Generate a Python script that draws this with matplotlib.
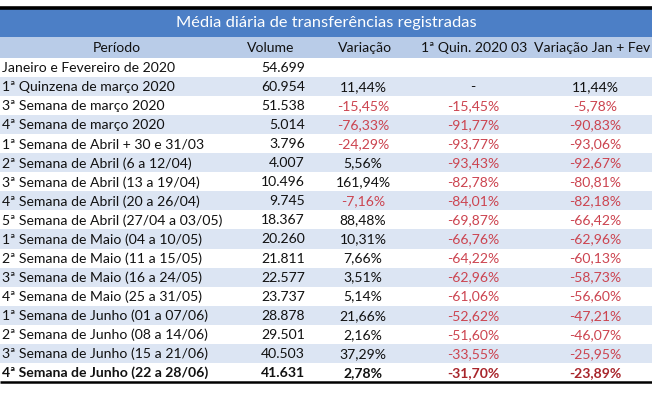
import matplotlib
matplotlib.use("Agg")
import matplotlib.pyplot as plt
from matplotlib.patches import Rectangle

title = "Média diária de transferências registradas"
headers = ["Período", "Volume", "Variação", "1ª Quin. 2020 03", "Variação Jan + Fev"]
periods = [
    "Janeiro e Fevereiro de 2020",
    "1ª Quinzena de março 2020",
    "3ª Semana de março 2020",
    "4ª Semana de março 2020",
    "1ª Semana de Abril + 30 e 31/03",
    "2ª Semana de Abril (6 a 12/04)",
    "3ª Semana de Abril (13 a 19/04)",
    "4ª Semana de Abril (20 a 26/04)",
    "5ª Semana de Abril (27/04 a 03/05)",
    "1ª Semana de Maio (04 a 10/05)",
    "2ª Semana de Maio (11 a 15/05)",
    "3ª Semana de Maio (16 a 24/05)",
    "4ª Semana de Maio (25 a 31/05)",
    "1ª Semana de Junho (01 a 07/06)",
    "2ª Semana de Junho (08 a 14/06)",
    "3ª Semana de Junho (15 a 21/06)",
    "4ª Semana de Junho (22 a 28/06)",
]
volumes = ["54.699", "60.954", "51.538", "5.014", "3.796", "4.007", "10.496", "9.745",
           "18.367", "20.260", "21.811", "22.577", "23.737", "28.878", "29.501", "40.503", "41.631"]
variacao = ["", "11,44%", "-15,45%", "-76,33%", "-24,29%", "5,56%", "161,94%", "-7,16%",
            "88,48%", "10,31%", "7,66%", "3,51%", "5,14%", "21,66%", "2,16%", "37,29%", "2,78%"]
quin = ["", "-", "-15,45%", "-91,77%", "-93,77%", "-93,43%", "-82,78%", "-84,01%",
        "-69,87%", "-66,76%", "-64,22%", "-62,96%", "-61,06%", "-52,62%", "-51,60%", "-33,55%", "-31,70%"]
jan_fev = ["", "11,44%", "-5,78%", "-90,83%", "-93,06%", "-92,67%", "-80,81%", "-82,18%",
           "-66,42%", "-62,96%", "-60,13%", "-58,73%", "-56,60%", "-47,21%", "-46,07%", "-25,95%", "-23,89%"]

W, H = 652, 408
fig = plt.figure(figsize=(W / 100, H / 100), dpi=100)
ax = fig.add_axes([0, 0, 1, 1])
ax.set_xlim(0, W)
ax.set_ylim(H, 0)
ax.axis("off")

FONT = ["Lato", "DejaVu Sans"]
FS = 10.1
TITLE_BG = "#4C7FC6"
HEAD_BG = "#B9CCE8"
BAND_BG = "#DCE5F3"
RED = "#CC4450"
DARK_RED = "#A8252B"
TXT = "#111111"

top_line = 8
title_top, title_bot = 9, 37
head_top, head_bot = 37, 58
row_top = 58
row_h = 19.05

ax.add_patch(Rectangle((0, title_top), W, title_bot - title_top, color=TITLE_BG, lw=0))
ax.add_patch(Rectangle((0, head_top), W, head_bot - head_top, color=HEAD_BG, lw=0))
ax.plot([0, W], [top_line, top_line], color="black", lw=2.6, solid_capstyle="butt")

ax.text(326, (title_top + title_bot) / 2 + 0.5, title, ha="center", va="center",
        color="white", fontsize=11.8, family=FONT)

head_x = [117, 271, 365, 474]
for hx, h in zip(head_x, headers[:4]):
    ax.text(hx, (head_top + head_bot) / 2 + 0.5, h, ha="center", va="center",
            color=TXT, fontsize=FS, family=FONT)
ax.text(650, (head_top + head_bot) / 2 + 0.5, headers[4], ha="right", va="center",
        color=TXT, fontsize=FS, family=FONT)

n = len(periods)
for i in range(n):
    y0 = row_top + i * row_h
    if i % 2 == 1:
        ax.add_patch(Rectangle((0, y0), W, row_h, color=BAND_BG, lw=0))
    yc = y0 + row_h / 2 + 0.5
    last = i == n - 1
    fw = "bold" if last else "normal"
    red = DARK_RED if last else RED
    ax.text(2, yc, periods[i], ha="left", va="center", color=TXT, fontsize=FS,
            family=FONT, weight=fw)
    ax.text(305, yc, volumes[i], ha="right", va="center", color=TXT, fontsize=FS,
            family=FONT, weight=fw)
    for cx, val in zip([363, 473, 595], [variacao[i], quin[i], jan_fev[i]]):
        if not val:
            continue
        col = red if val.startswith("-") and len(val) > 1 else TXT
        ax.text(cx, yc, val, ha="center", va="center", color=col, fontsize=FS,
                family=FONT, weight=fw)

bottom = row_top + n * row_h
ax.plot([0, W], [bottom + 0.5, bottom + 0.5], color="black", lw=1.8, solid_capstyle="butt")

fig.savefig("out.png", dpi=100)
